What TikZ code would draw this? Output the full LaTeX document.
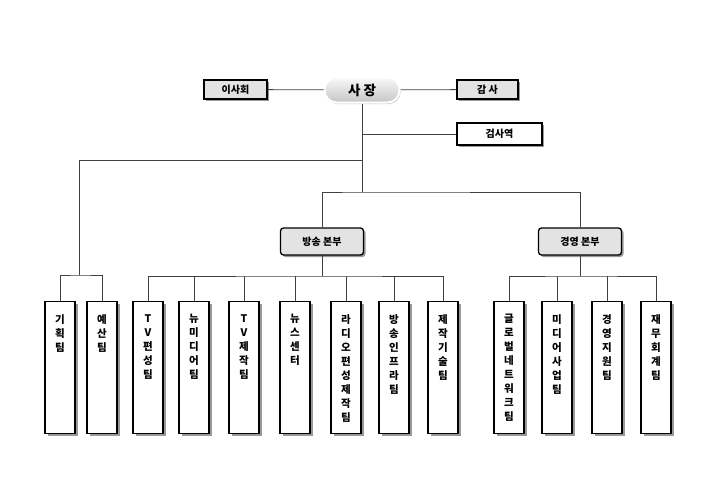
\documentclass[tikz,border=0pt]{standalone}
\usepackage{fontspec}
\setmainfont{Noto Sans CJK KR}
\usetikzlibrary{shadows, positioning}

\begin{document}
\begin{tikzpicture}[
        x=1pt, y=-1pt,
        every node/.style={inner sep=0pt},
        head/.style={
          rectangle,
          rounded corners=12pt,
          minimum width=75pt,
          minimum height=25pt,
          top color=gray!5,
          bottom color=gray!45,
          draw=white,
          line width=2pt,
          font=\fontsize{13.5}{13.5}\selectfont\bfseries,
          drop shadow={shadow xshift=1pt, shadow yshift=-1.5pt, fill=black!45}
        },
        side/.style={
          rectangle,
          minimum height=19pt,
          draw,
          line width=1.3pt,
          fill=gray!22,
          font=\fontsize{10}{10}\selectfont\bfseries,
          drop shadow={shadow xshift=2pt, shadow yshift=-2pt, fill=black!50, opacity=0.8}
        },
        division/.style={
          rectangle,
          rounded corners=3pt,
          minimum width=83pt,
          minimum height=27pt,
          draw,
          line width=1.3pt,
          fill=gray!22,
          font=\fontsize{10}{10}\selectfont\bfseries,
          drop shadow={shadow xshift=2pt, shadow yshift=-2pt, fill=black!50, opacity=0.8}
        },
        team/.style={
          rectangle,
          anchor=north,
          minimum width=30pt,
          minimum height=132pt,
          draw,
          fill=white,
          line width=1.3pt,
          drop shadow={shadow xshift=2.5pt, shadow yshift=-2.5pt, fill=black!50, opacity=0.8}
        },
        teamtext/.style={
          anchor=north,
          yshift=-13pt,
          align=center,
          font=\fontsize{10.5}{14}\selectfont\bfseries
        },
        link/.style={
          line width=0.8pt,
          draw=black!75
        }
      ]
      \useasboundingbox (0,0) rectangle (720,498);

      % Top level
      \node[head] (ceo) at (362,90) {사 장};
      \node[side, minimum width=63pt] (board) at (235.5,89.5) {이사회};
      \node[side, minimum width=61pt] (audit) at (487.5,89.5) {감 사};
      \node[side, fill=white, minimum width=85pt, minimum height=22pt] (inspector) at (499.5,134) {검사역};

      % Divisions
      \node[division] (bcast) at (322,241.5) {방송 본부};
      \node[division] (mgmt) at (580,241.5) {경영 본부};

      % Teams
      \node[team, label={[teamtext]north:기\\획\\팀}] (plan) at (60,301) {};
      \node[team, label={[teamtext]north:예\\산\\팀}] (budget) at (102,301) {};
      \node[team, label={[teamtext]north:T\\V\\편\\성\\팀}] (tvplan) at (148,301) {};
      \node[team, label={[teamtext]north:뉴\\미\\디\\어\\팀}] (newmedia) at (194,301) {};
      \node[team, label={[teamtext]north:T\\V\\제\\작\\팀}] (tvprod) at (244,301) {};
      \node[team, label={[teamtext]north:뉴\\스\\센\\터}] (news) at (295,301) {};
      \node[team, label={[teamtext]north:라\\디\\오\\편\\성\\제\\작\\팀}] (radio) at (346,301) {};
      \node[team, label={[teamtext]north:방\\송\\인\\프\\라\\팀}] (infra) at (394,301) {};
      \node[team, label={[teamtext]north:제\\작\\기\\술\\팀}] (tech) at (443,301) {};
      \node[team, label={[teamtext]north:글\\로\\벌\\네\\트\\워\\크\\팀}] (global) at (509,301) {};
      \node[team, label={[teamtext]north:미\\디\\어\\사\\업\\팀}] (mediabiz) at (557,301) {};
      \node[team, label={[teamtext]north:경\\영\\지\\원\\팀}] (support) at (607,301) {};
      \node[team, label={[teamtext]north:재\\무\\회\\계\\팀}] (finance) at (656,301) {};

      % Junctions
      \coordinate (split1) at (362,160);
      \coordinate (split2) at (362,192);
      \coordinate (lbus) at (79,275);
      \coordinate (bbus) at (322,276);
      \coordinate (mbus) at (580,276);

      % Lines
      \draw[link] (board) -- (ceo);
      \draw[link] (ceo) -- (audit);
      \draw[link] (ceo.south) -- (split2);
      \draw[link] (inspector) -- (inspector -| split1);
      \draw[link] (split1) -| (lbus);
      \draw[link] (plan.north) |- (lbus) -| (budget.north);
      \draw[link] (bcast.north) |- (split2) -| (mgmt.north);

      \draw[link] (bcast.south) -- (bbus);
      \draw[link] (tvplan.north) |- (bbus) -| (tech.north);
      \draw[link] (newmedia.north) -- (newmedia.north |- bbus);
      \draw[link] (tvprod.north) -- (tvprod.north |- bbus);
      \draw[link] (news.north) -- (news.north |- bbus);
      \draw[link] (radio.north) -- (radio.north |- bbus);
      \draw[link] (infra.north) -- (infra.north |- bbus);

      \draw[link] (mgmt.south) -- (mbus);
      \draw[link] (global.north) |- (mbus) -| (finance.north);
      \draw[link] (mediabiz.north) -- (mediabiz.north |- mbus);
      \draw[link] (support.north) -- (support.north |- mbus);

    \end{tikzpicture}
\end{document}
